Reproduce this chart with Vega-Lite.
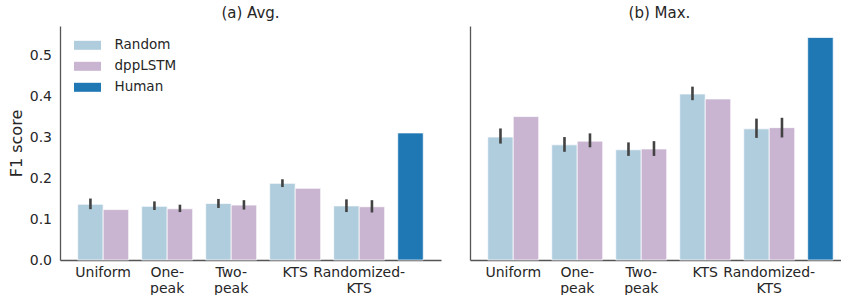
{
  "$schema": "https://vega.github.io/schema/vega-lite/v6.json",
  "padding": {"left": 8, "top": 6, "right": 0, "bottom": 0},
  "config": {
    "font": "DejaVu Sans",
    "view": {"stroke": null},
    "axis": {"labelFont": "DejaVu Sans", "labelFontSize": 14, "labelColor": "#262626", "titleFont": "DejaVu Sans", "titleFontSize": 16, "titleColor": "#262626", "titleFontWeight": "normal", "domainColor": "#555555", "domainWidth": 1.3, "ticks": false, "grid": false},
    "axisY": {"labelPadding": 8.5, "titlePadding": 5},
    "axisX": {"labelPadding": 5, "labelAngle": 0, "labelLineHeight": 16},
    "title": {"font": "DejaVu Sans", "fontSize": 15, "fontWeight": "normal", "color": "#262626", "offset": 5},
    "legend": {"padding": 0, "symbolType": "M-2,-0.667H2V0.667H-2Z", "symbolSize": 182.25, "symbolStrokeWidth": 0, "labelFont": "DejaVu Sans", "labelFontSize": 13.5, "labelColor": "#262626", "labelOffset": 20, "rowPadding": 7}
  },
  "datasets": {
    "scores": [
      {"panel": "avg", "group": "Uniform", "method": "Random", "value": 0.136, "lo": 0.124, "hi": 0.150},
      {"panel": "avg", "group": "Uniform", "method": "dppLSTM", "value": 0.123, "lo": null, "hi": null},
      {"panel": "avg", "group": "One-peak", "method": "Random", "value": 0.131, "lo": 0.122, "hi": 0.143},
      {"panel": "avg", "group": "One-peak", "method": "dppLSTM", "value": 0.125, "lo": 0.117, "hi": 0.135},
      {"panel": "avg", "group": "Two-peak", "method": "Random", "value": 0.138, "lo": 0.127, "hi": 0.149},
      {"panel": "avg", "group": "Two-peak", "method": "dppLSTM", "value": 0.134, "lo": 0.123, "hi": 0.146},
      {"panel": "avg", "group": "KTS", "method": "Random", "value": 0.187, "lo": 0.178, "hi": 0.197},
      {"panel": "avg", "group": "KTS", "method": "dppLSTM", "value": 0.175, "lo": null, "hi": null},
      {"panel": "avg", "group": "Randomized-KTS", "method": "Random", "value": 0.132, "lo": 0.117, "hi": 0.148},
      {"panel": "avg", "group": "Randomized-KTS", "method": "dppLSTM", "value": 0.130, "lo": 0.116, "hi": 0.146},
      {"panel": "avg", "group": "Human", "method": "Human", "value": 0.310, "lo": null, "hi": null},
      {"panel": "max", "group": "Uniform", "method": "Random", "value": 0.300, "lo": 0.284, "hi": 0.321},
      {"panel": "max", "group": "Uniform", "method": "dppLSTM", "value": 0.350, "lo": null, "hi": null},
      {"panel": "max", "group": "One-peak", "method": "Random", "value": 0.281, "lo": 0.264, "hi": 0.300},
      {"panel": "max", "group": "One-peak", "method": "dppLSTM", "value": 0.290, "lo": 0.275, "hi": 0.309},
      {"panel": "max", "group": "Two-peak", "method": "Random", "value": 0.269, "lo": 0.254, "hi": 0.287},
      {"panel": "max", "group": "Two-peak", "method": "dppLSTM", "value": 0.271, "lo": 0.254, "hi": 0.290},
      {"panel": "max", "group": "KTS", "method": "Random", "value": 0.405, "lo": 0.390, "hi": 0.423},
      {"panel": "max", "group": "KTS", "method": "dppLSTM", "value": 0.393, "lo": null, "hi": null},
      {"panel": "max", "group": "Randomized-KTS", "method": "Random", "value": 0.320, "lo": 0.298, "hi": 0.345},
      {"panel": "max", "group": "Randomized-KTS", "method": "dppLSTM", "value": 0.323, "lo": 0.299, "hi": 0.347},
      {"panel": "max", "group": "Human", "method": "Human", "value": 0.543, "lo": null, "hi": null}
    ]
  },
  "data": {"name": "scores"},
  "spacing": 29,
  "resolve": {"scale": {"x": "independent", "xOffset": "independent", "y": "independent", "color": "independent"}, "legend": {"color": "independent"}},
  "hconcat": [
    {
      "title": "(a) Avg.",
      "width": 381,
      "height": 234,
      "transform": [{"filter": "datum.panel == 'avg'"}],
      "resolve": {"scale": {"x": "independent"}},
      "layer": [
        {
          "layer": [
            {
              "transform": [{"filter": "datum.method != 'Human'"}],
              "mark": {"type": "bar", "stroke": "white", "strokeWidth": 1, "strokeOpacity": 0.7},
              "encoding": {
                "x": {"field": "group", "type": "nominal", "sort": ["Uniform", "One-peak", "Two-peak", "KTS", "Randomized-KTS"], "scale": {"domain": ["Uniform", "One-peak", "Two-peak", "KTS", "Randomized-KTS"], "paddingInner": 0.2031, "paddingOuter": 0.578, "align": 0.239}, "axis": {"title": null, "labelExpr": "indexof(datum.label, '-') > 0 ? [slice(datum.label, 0, indexof(datum.label, '-') + 1), slice(datum.label, indexof(datum.label, '-') + 1)] : datum.label"}},
                "xOffset": {"field": "method", "type": "nominal", "scale": {"domain": ["Random", "dppLSTM"], "paddingInner": 0, "paddingOuter": 0}},
                "y": {"field": "value", "type": "quantitative", "scale": {"domain": [0, 0.571], "nice": false}, "axis": {"title": "F1 score", "values": [0, 0.1, 0.2, 0.3, 0.4, 0.5], "format": ".1f"}},
                "color": {"field": "method", "type": "nominal", "scale": {"domain": ["Random", "dppLSTM", "Human"], "range": ["#b0cdde", "#c9b5d1", "#1f77b4"]}, "legend": {"title": null, "orient": "none", "legendX": 20.5, "legendY": 12.3}}
              }
            },
            {
              "transform": [{"filter": "datum.method != 'Human' && isValid(datum.lo)"}],
              "mark": {"type": "rule", "color": "#424242", "strokeWidth": 2.6},
              "encoding": {
                "x": {"field": "group", "type": "nominal", "sort": ["Uniform", "One-peak", "Two-peak", "KTS", "Randomized-KTS"], "scale": {"domain": ["Uniform", "One-peak", "Two-peak", "KTS", "Randomized-KTS"], "paddingInner": 0.2031, "paddingOuter": 0.578, "align": 0.239}, "axis": {"title": null}},
                "xOffset": {"field": "method", "type": "nominal", "scale": {"domain": ["Random", "dppLSTM"], "paddingInner": 0, "paddingOuter": 0}},
                "y": {"field": "lo", "type": "quantitative", "axis": {"title": "F1 score", "values": [0, 0.1, 0.2, 0.3, 0.4, 0.5], "format": ".1f"}},
                "y2": {"field": "hi"}
              }
            }
          ]
        },
        {
          "transform": [{"filter": "datum.method == 'Human'"}],
          "mark": {"type": "bar", "stroke": "white", "strokeWidth": 1, "strokeOpacity": 0.7},
          "encoding": {
            "x": {"field": "group", "type": "nominal", "scale": {"domain": ["Uniform", "One-peak", "Two-peak", "KTS", "Randomized-KTS", "Human"], "paddingInner": 0.6016, "paddingOuter": 0.2775, "align": 0.5}, "axis": null},
            "y": {"field": "value", "type": "quantitative", "axis": {"title": "F1 score", "values": [0, 0.1, 0.2, 0.3, 0.4, 0.5], "format": ".1f"}},
            "color": {"field": "method", "type": "nominal"}
          }
        }
      ]
    },
    {
      "title": {"text": "(b) Max.", "dx": 4},
      "width": 371,
      "height": 234,
      "transform": [{"filter": "datum.panel == 'max'"}],
      "resolve": {"scale": {"x": "independent"}},
      "layer": [
        {
          "layer": [
            {
              "transform": [{"filter": "datum.method != 'Human'"}],
              "mark": {"type": "bar", "stroke": "white", "strokeWidth": 1, "strokeOpacity": 0.7},
              "encoding": {
                "x": {"field": "group", "type": "nominal", "sort": ["Uniform", "One-peak", "Two-peak", "KTS", "Randomized-KTS"], "scale": {"domain": ["Uniform", "One-peak", "Two-peak", "KTS", "Randomized-KTS"], "paddingInner": 0.2031, "paddingOuter": 0.5, "align": 0.277}, "axis": {"title": null, "labelExpr": "indexof(datum.label, '-') > 0 ? [slice(datum.label, 0, indexof(datum.label, '-') + 1), slice(datum.label, indexof(datum.label, '-') + 1)] : datum.label"}},
                "xOffset": {"field": "method", "type": "nominal", "scale": {"domain": ["Random", "dppLSTM"], "paddingInner": 0, "paddingOuter": 0}},
                "y": {"field": "value", "type": "quantitative", "scale": {"domain": [0, 0.571], "nice": false}, "axis": {"title": null, "labels": false, "values": [0, 0.1, 0.2, 0.3, 0.4, 0.5]}},
                "color": {"field": "method", "type": "nominal", "scale": {"domain": ["Random", "dppLSTM", "Human"], "range": ["#b0cdde", "#c9b5d1", "#1f77b4"]}, "legend": null}
              }
            },
            {
              "transform": [{"filter": "datum.method != 'Human' && isValid(datum.lo)"}],
              "mark": {"type": "rule", "color": "#424242", "strokeWidth": 2.6},
              "encoding": {
                "x": {"field": "group", "type": "nominal", "sort": ["Uniform", "One-peak", "Two-peak", "KTS", "Randomized-KTS"], "scale": {"domain": ["Uniform", "One-peak", "Two-peak", "KTS", "Randomized-KTS"], "paddingInner": 0.2031, "paddingOuter": 0.5, "align": 0.277}, "axis": {"title": null}},
                "xOffset": {"field": "method", "type": "nominal", "scale": {"domain": ["Random", "dppLSTM"], "paddingInner": 0, "paddingOuter": 0}},
                "y": {"field": "lo", "type": "quantitative", "axis": {"title": null, "labels": false, "values": [0, 0.1, 0.2, 0.3, 0.4, 0.5]}},
                "y2": {"field": "hi"}
              }
            }
          ]
        },
        {
          "transform": [{"filter": "datum.method == 'Human'"}],
          "mark": {"type": "bar", "stroke": "white", "strokeWidth": 1, "strokeOpacity": 0.7},
          "encoding": {
            "x": {"field": "group", "type": "nominal", "scale": {"domain": ["Uniform", "One-peak", "Two-peak", "KTS", "Randomized-KTS", "Human"], "paddingInner": 0.6016, "paddingOuter": 0.1995, "align": 0.694}, "axis": null},
            "y": {"field": "value", "type": "quantitative", "axis": {"title": null, "labels": false, "values": [0, 0.1, 0.2, 0.3, 0.4, 0.5]}},
            "color": {"field": "method", "type": "nominal", "legend": null}
          }
        }
      ]
    }
  ]
}
